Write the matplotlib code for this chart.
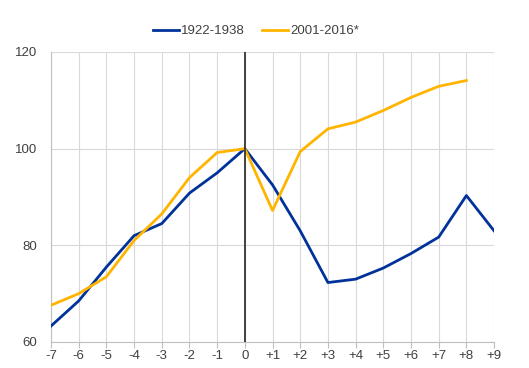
import matplotlib
matplotlib.use('Agg')
import matplotlib.pyplot as plt

# years relative to the peak
years = list(range(-7, 10))
tick_labels = [str(y) if y <= 0 else '+' + str(y) for y in years]

series_1922 = [63.3, 68.5, 75.5, 82.0, 84.5, 90.8, 95.0, 100.0, 92.5,
               83.0, 72.3, 73.0, 75.3, 78.3, 81.7, 90.3, 83.0]
series_2001 = [67.6, 70.0, 73.5, 81.0, 86.5, 94.0, 99.2, 100.0, 87.2,
               99.4, 104.1, 105.5, 107.9, 110.6, 112.9, 114.1]

plt.rcParams['font.family'] = ['Liberation Sans', 'DejaVu Sans']

fig = plt.figure(figsize=(5.29, 3.68), dpi=100)
ax = fig.add_axes([0.0964, 0.0707, 0.8376, 0.788])

ax.plot(years, series_1922, color='#003299', lw=2, label='1922-1938', zorder=3)
ax.plot(years[:len(series_2001)], series_2001, color='#FFB400', lw=2,
        label='2001-2016*', zorder=3)
ax.axvline(0, color='#333333', lw=1.3, zorder=4)

ax.set_xlim(-7, 9)
ax.set_ylim(60, 120)
ax.set_xticks(years)
ax.set_xticklabels(tick_labels)
ax.set_yticks([60, 80, 100, 120])
ax.grid(True, color='#d9d9d9', lw=0.8)
ax.set_axisbelow(True)

for s in ['top', 'right']:
    ax.spines[s].set_visible(False)
for s in ['left', 'bottom']:
    ax.spines[s].set_color('#bfbfbf')
ax.tick_params(axis='x', length=4, color='#bfbfbf', labelsize=9.5,
               labelcolor='#404040', pad=2)
ax.tick_params(axis='y', length=0, labelsize=9.5, labelcolor='#404040', pad=10)

fig.legend(loc='center', bbox_to_anchor=(0.484, 0.915), ncol=2, frameon=False,
           fontsize=9.5, handlelength=2.0, handletextpad=0.15,
           columnspacing=1.3, labelcolor='#404040')

fig.savefig('out.png', dpi=100)
